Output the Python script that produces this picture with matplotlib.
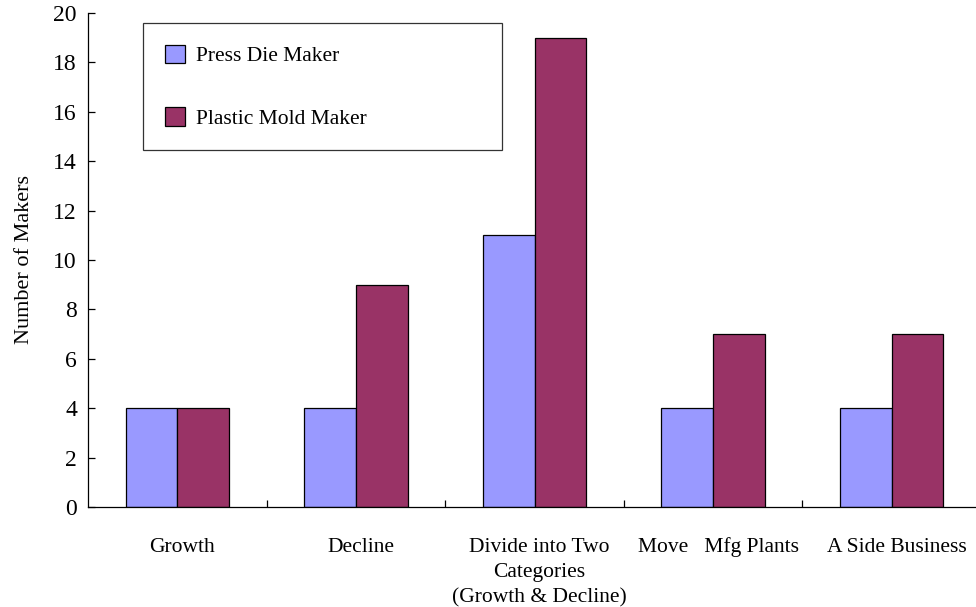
import matplotlib
matplotlib.use("Agg")
import matplotlib.pyplot as plt
import matplotlib.transforms as mtransforms
import numpy as np

categories = ["Growth", "Decline", "Divide into Two\nCategories\n(Growth & Decline)",
              "Move   Mfg Plants", "A Side Business"]
press_die = [4, 4, 11, 4, 4]
plastic_mold = [4, 9, 19, 7, 7]
series_names = ["Press Die Maker", "Plastic Mold Maker"]

BLUE = "#9999ff"
MAROON = "#993366"

plt.rcParams["font.family"] = ["Liberation Serif", "DejaVu Serif"]

fig = plt.figure(figsize=(9.76, 6.07), dpi=100)
ax = fig.add_axes([88 / 976, 100 / 607, 893 / 976, 494 / 607])

x = np.arange(len(categories))
w = 0.29
ax.bar(x - w / 2, press_die, w, color=BLUE, edgecolor="black", linewidth=0.9,
       label=series_names[0])
ax.bar(x + w / 2, plastic_mold, w, color=MAROON, edgecolor="black", linewidth=0.9,
       label=series_names[1])

ax.set_xlim(-0.5, len(categories) - 0.5)
ax.set_ylim(0, 20)
ax.set_yticks(range(0, 21, 2))
ax.tick_params(axis="y", direction="in", length=5, width=0.9, pad=8, labelsize=17)

ax.set_xticks(x)
ax.set_xticklabels(categories, fontsize=15.5, linespacing=1.45)
ax.set_xticks(x[:-1] + 0.5, minor=True)
ax.tick_params(axis="x", which="major", length=0, pad=22)
ax.tick_params(axis="x", which="minor", direction="in", length=5, width=0.9)
shift = mtransforms.ScaledTranslation(5 / 100, 0, fig.dpi_scale_trans)
for lbl in ax.get_xticklabels():
    lbl.set_transform(lbl.get_transform() + shift)

for side in ("top", "right"):
    ax.spines[side].set_visible(False)
for side in ("left", "bottom"):
    ax.spines[side].set_linewidth(0.9)

ax.set_ylabel("Number of Makers", fontsize=16, labelpad=14)

# legend box spans a fixed region in the upper left of the plot
bx0 = (143 - 88) / 893
bx1 = (502 - 88) / 893
by1 = (507 - 23) / 494
leg = ax.legend(bbox_to_anchor=(bx0, by1 - 0.3, bx1 - bx0, 0.3), loc="upper left",
                mode="expand", borderaxespad=0, fontsize=15.5, frameon=True,
                fancybox=False, handlelength=0.95, handleheight=0.95,
                handletextpad=0.5, labelspacing=1.9, borderpad=1.0)
leg.get_frame().set_edgecolor("black")
leg.get_frame().set_linewidth(0.9)

fig.savefig("out.png", dpi=100)
